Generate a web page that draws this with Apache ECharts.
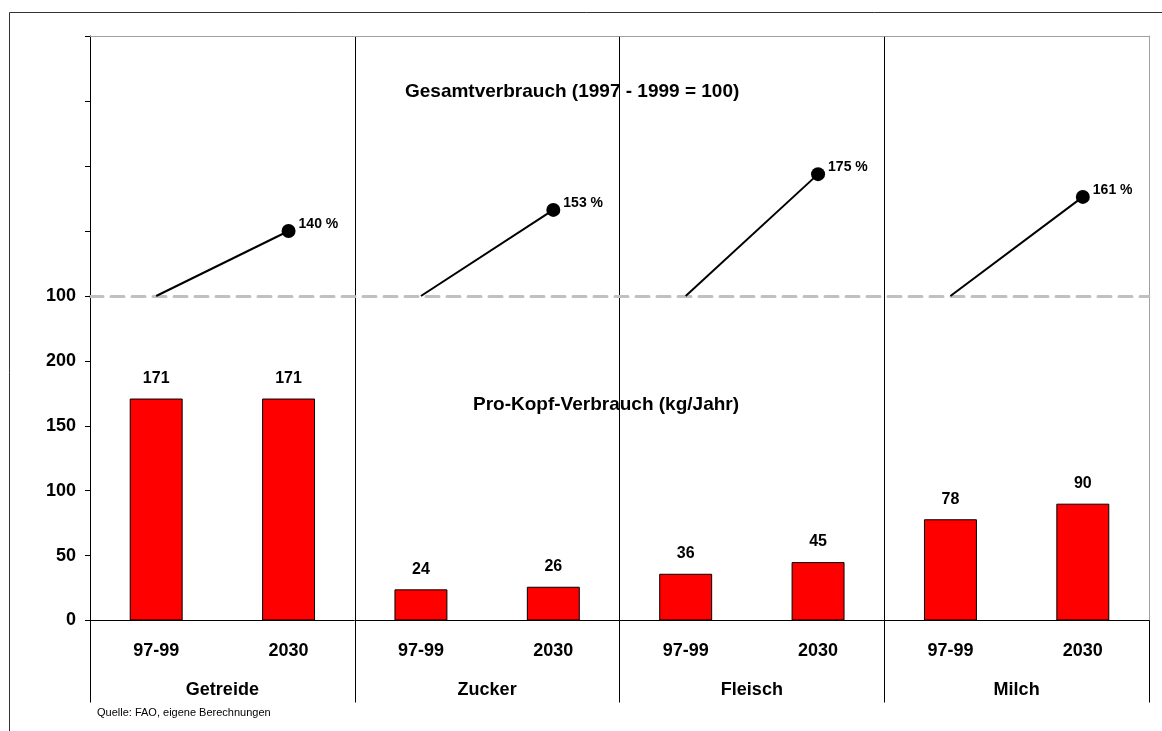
<!DOCTYPE html>
<html>

<head>
	<meta charset="utf-8">
	<title>Gesamtverbrauch und Pro-Kopf-Verbrauch</title>
	<script src="https://cdn.jsdelivr.net/npm/echarts@6/dist/echarts.min.js"></script>
	<style>
		body { margin: 0; background: #fff; }
	</style>
</head>

<body>
	<div id="main" style="width: 1162px;height:731px;"></div>

	<script type="text/javascript">
		// Daten
		var groups = ['Getreide', 'Zucker', 'Fleisch', 'Milch'];
		var periods = ['97-99', '2030'];
		var proKopf9799 = [171, 24, 36, 78];
		var proKopf2030 = [171, 26, 45, 90];
		var gesamtBasis = 100;
		var gesamt2030 = [140, 153, 175, 161];
		var topTicks = [100, 140, 180, 220, 260];
		var bottomTicks = [0, 50, 100, 150, 200, 250];

		var font = 'Liberation Sans, Arial, sans-serif';

		// 8 Kategorien: je Gruppe 97-99 und 2030
		var cats = [];
		var bars = [];
		groups.forEach(function (g, i) {
			cats.push(periods[0], periods[1]);
			bars.push(proKopf9799[i], proKopf2030[i]);
		});

		var lineSeries = groups.map(function (g, i) {
			var d = cats.map(function () { return '-'; });
			d[2 * i] = { value: gesamtBasis, symbol: 'none' };
			d[2 * i + 1] = {
				value: gesamt2030[i],
				symbol: 'circle',
				symbolSize: 14,
				label: { show: true }
			};
			return {
				name: g,
				type: 'line',
				xAxisIndex: 0,
				yAxisIndex: 0,
				data: d,
				connectNulls: false,
				lineStyle: { color: '#000', width: 2 },
				itemStyle: { color: '#000' },
				label: {
					show: false,
					position: 'right',
					distance: 3,
					offset: [0, -7],
					formatter: '{c} %',
					color: '#000',
					fontWeight: 'bold',
					fontSize: 14,
					fontFamily: font
				},
				z: 5
			};
		});

		var myChart = echarts.init(document.getElementById('main'));
		var option = {
			animation: false,
			textStyle: { fontFamily: font },
			title: [{
				text: 'Gesamtverbrauch (1997 - 1999 = 100)',
				left: 400, top: 77,
				textStyle: { fontSize: 19, fontWeight: 'bold', color: '#000', fontFamily: font }
			}, {
				text: 'Pro-Kopf-Verbrauch (kg/Jahr)',
				left: 468, top: 390,
				textStyle: { fontSize: 19, fontWeight: 'bold', color: '#000', fontFamily: font }
			}, {
				text: 'Quelle: FAO, eigene Berechnungen',
				left: 92, top: 702,
				textStyle: { fontSize: 11, fontWeight: 'normal', color: '#000', fontFamily: font }
			}],
			graphic: [{
				type: 'rect',
				shape: { x: 9.5, y: 12.5, width: 1200, height: 800 },
				style: { fill: null, stroke: '#333', lineWidth: 1 }
			}],
			grid: [
				{ left: 90, right: 13, top: 36, height: 260 },
				{ left: 90, right: 13, top: 296, height: 324.5 }
			],
			xAxis: [{
				gridIndex: 0, type: 'category', data: cats, position: 'top',
				axisLine: { lineStyle: { color: '#a0a0a0', width: 1 } },
				axisTick: { show: false }, axisLabel: { show: false }
			}, {
				gridIndex: 0, type: 'category', data: groups, position: 'bottom',
				axisLine: { lineStyle: { color: '#c0c0c0', width: 3, type: [13, 8] } },
				axisTick: { show: false }, axisLabel: { show: false },
				splitLine: { show: true, lineStyle: { color: '#000', width: 1 } }
			}, {
				gridIndex: 1, type: 'category', data: cats, position: 'bottom',
				axisLine: { lineStyle: { color: '#000', width: 1 } },
				axisTick: { show: false },
				axisLabel: { margin: 22, fontSize: 18, fontWeight: 'bold', color: '#000', fontFamily: font }
			}, {
				gridIndex: 1, type: 'category', data: groups, position: 'bottom',
				axisLine: { show: false },
				axisTick: { show: true, length: 82, lineStyle: { color: '#000' } },
				axisLabel: { margin: 61, fontSize: 18, fontWeight: 'bold', color: '#000', fontFamily: font },
				splitLine: { show: true, lineStyle: { color: '#000', width: 1 } }
			}],
			yAxis: [{
				gridIndex: 0, type: 'value',
				min: topTicks[0], max: topTicks[topTicks.length - 1], interval: 40,
				axisLine: { show: true, lineStyle: { color: '#000' } },
				axisTick: { show: true, length: 5, lineStyle: { color: '#000' } },
				splitLine: { show: false },
				axisLabel: {
					margin: 14, fontSize: 18, fontWeight: 'bold', color: '#000', fontFamily: font,
					formatter: function (v) { return v === gesamtBasis ? String(v) : ''; }
				}
			}, {
				gridIndex: 0, type: 'value', position: 'right',
				min: topTicks[0], max: topTicks[topTicks.length - 1], interval: 40,
				axisLine: { show: true, lineStyle: { color: '#a0a0a0' } },
				axisTick: { show: false }, axisLabel: { show: false }, splitLine: { show: false }
			}, {
				gridIndex: 1, type: 'value',
				min: bottomTicks[0], max: bottomTicks[bottomTicks.length - 1], interval: 50,
				axisLine: { show: true, lineStyle: { color: '#000' } },
				axisTick: { show: true, length: 5, lineStyle: { color: '#000' } },
				splitLine: { show: false },
				axisLabel: {
					margin: 14, fontSize: 18, fontWeight: 'bold', color: '#000', fontFamily: font,
					formatter: function (v) { return v === 250 ? '' : String(v); }
				}
			}, {
				gridIndex: 1, type: 'value', position: 'right',
				min: bottomTicks[0], max: bottomTicks[bottomTicks.length - 1], interval: 50,
				axisLine: { show: true, lineStyle: { color: '#a0a0a0' } },
				axisTick: { show: false }, axisLabel: { show: false }, splitLine: { show: false }
			}],
			series: [{
				name: 'Pro-Kopf-Verbrauch',
				type: 'bar',
				xAxisIndex: 2,
				yAxisIndex: 2,
				data: bars,
				barWidth: '40%',
				itemStyle: { color: '#ff0000', borderColor: '#000', borderWidth: 1 },
				label: {
					show: true, position: 'top', distance: 12,
					color: '#000', fontWeight: 'bold', fontSize: 16, fontFamily: font
				}
			}].concat(lineSeries)
		};

		myChart.setOption(option);
	</script>
</body>

</html>
